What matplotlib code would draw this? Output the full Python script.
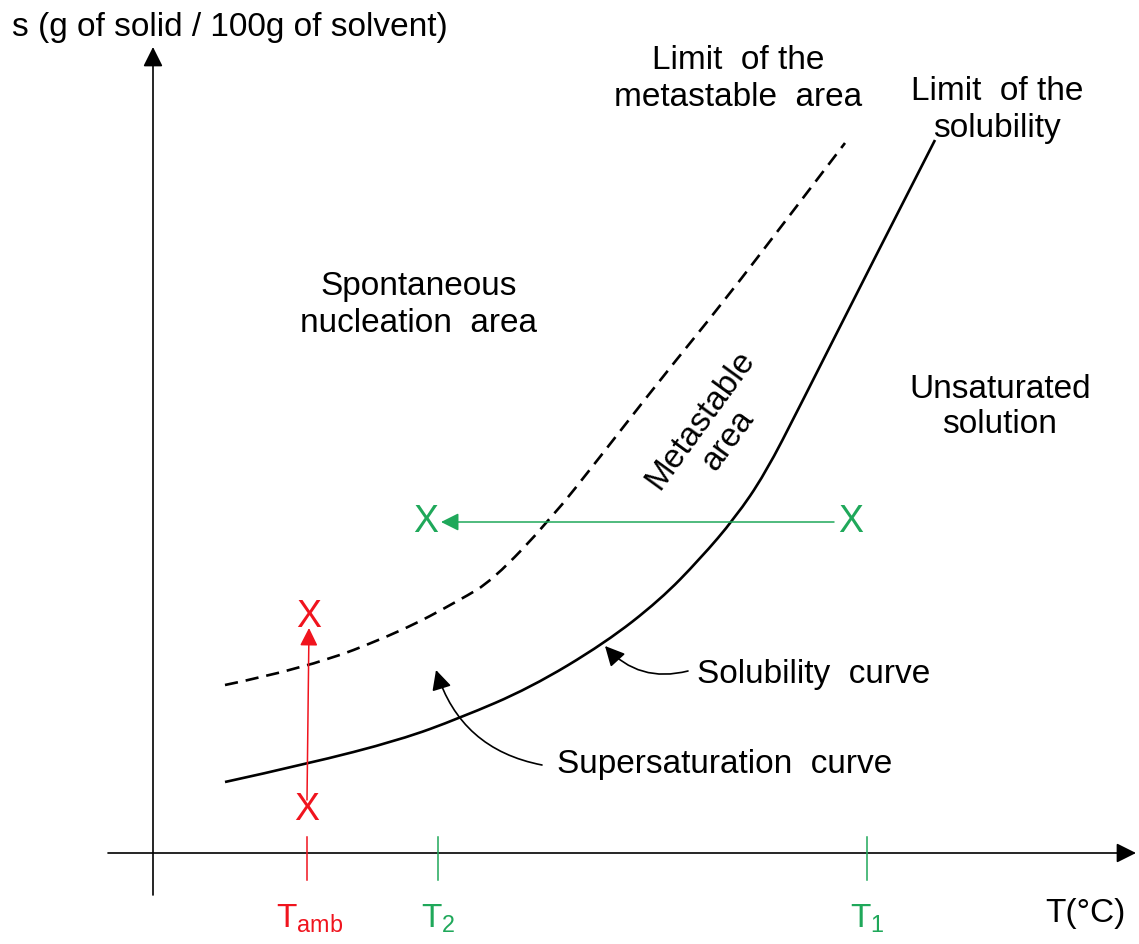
import matplotlib.pyplot as plt
from matplotlib.patches import FancyArrowPatch, PathPatch
from matplotlib.path import Path

plt.rcParams['font.family'] = ['Liberation Sans', 'DejaVu Sans']
plt.rcParams['mathtext.fontset'] = 'custom'
plt.rcParams['mathtext.rm'] = 'Liberation Sans'

# curves (pixel units, y down)
sol_x = [225, 307, 400, 460, 530, 605, 660, 700, 735, 765, 800, 867, 935]
sol_y = [782, 764, 740, 718, 688, 643, 600, 559, 518, 474, 406, 273, 140]
meta_x = [225, 307, 400, 460, 493, 550, 600, 660, 725, 790, 845]
meta_y = [685, 668, 632, 600, 580, 520, 457, 380, 300, 215, 143]

# temperatures on the x axis
t_amb, t2, t1 = 307, 438, 867
y_base = 853
s_start, s_cool = 810, 522

RED = '#f0141e'
GREEN = '#1fa85a'
FS = 24
FX = 27

fig = plt.figure(figsize=(11.39, 9.44), dpi=100)
ax = fig.add_axes([0, 0, 1, 1])
ax.set_xlim(0, 1139)
ax.set_ylim(944, 0)
ax.axis('off')

def arrow(p0, p1, color='black', lw=1.2, rad=0.0, ms=20):
    a = FancyArrowPatch(p0, p1, arrowstyle='-|>,head_length=0.6,head_width=0.3',
                        connectionstyle='arc3,rad=%s' % rad, color=color,
                        lw=lw, mutation_scale=ms, shrinkA=0, shrinkB=0)
    ax.add_patch(a)

def smooth(xs, ys, **kw):
    # quadratic bezier through the midpoints, the read points act as controls
    pts = list(zip(xs, ys))
    verts = [pts[0]]
    codes = [Path.MOVETO]
    for i in range(1, len(pts) - 2):
        mid = ((pts[i][0] + pts[i + 1][0]) / 2, (pts[i][1] + pts[i + 1][1]) / 2)
        verts += [pts[i], mid]
        codes += [Path.CURVE3, Path.CURVE3]
    verts += [pts[-2], pts[-1]]
    codes += [Path.CURVE3, Path.CURVE3]
    ax.add_patch(PathPatch(Path(verts, codes), fill=False, **kw))

# axes
arrow((153, 895), (153, 47))
arrow((108, y_base), (1136, y_base))

# curves
smooth(sol_x, sol_y, edgecolor='black', lw=1.9, capstyle='butt')
smooth(meta_x, meta_y, edgecolor='black', lw=1.9, linestyle=(0, (5, 3)))

# ticks on T axis
ax.plot([t_amb, t_amb], [837, 880], color=RED, lw=1.1)
ax.plot([t2, t2], [837, 880], color=GREEN, lw=1.1)
ax.plot([t1, t1], [837, 880], color=GREEN, lw=1.1)

# red path (ambient)
arrow((t_amb, s_start - 10), (t_amb + 2, 628), color=RED, lw=1.1, ms=18)
ax.text(t_amb, s_start, 'X', color=RED, fontsize=FX, ha='center', va='center')
ax.text(t_amb + 2, 617, 'X', color=RED, fontsize=FX, ha='center', va='center')

# green path (cooling)
arrow((834, s_cool), (441, s_cool), color=GREEN, lw=1.1, ms=18)
ax.text(426, s_cool, 'X', color=GREEN, fontsize=FX, ha='center', va='center')
ax.text(851, s_cool, 'X', color=GREEN, fontsize=FX, ha='center', va='center')

# labels
ax.text(12, 36, 's (g of solid / 100g of solvent)', fontsize=FS, ha='left', va='baseline')
ax.text(1085, 922, 'T(°C)', fontsize=FS, ha='center', va='baseline')
ax.text(t_amb + 3, 928, r'$\mathrm{T_{amb}}$', color=RED, fontsize=FS, ha='center', va='baseline')
ax.text(t2, 928, r'$\mathrm{T_{2}}$', color=GREEN, fontsize=FS, ha='center', va='baseline')
ax.text(t1, 928, r'$\mathrm{T_{1}}$', color=GREEN, fontsize=FS, ha='center', va='baseline')

ax.text(738, 106, 'Limit  of the\nmetastable  area', fontsize=FS, ha='center',
        va='baseline', multialignment='center', linespacing=1.25)
ax.text(997, 137, 'Limit  of the\nsolubility', fontsize=FS, ha='center',
        va='baseline', multialignment='center', linespacing=1.25)
ax.text(419, 332, 'Spontaneous\nnucleation  area', fontsize=FS, ha='center',
        va='baseline', multialignment='center', linespacing=1.25)
ax.text(1000, 433, 'Unsaturated\nsolution', fontsize=FS, ha='center',
        va='baseline', multialignment='center', linespacing=1.15)
ax.text(714, 430, 'Metastable\narea', fontsize=FS, ha='center', va='center',
        multialignment='center', rotation=54, rotation_mode='anchor', linespacing=1.15)

ax.text(697, 683, 'Solubility  curve', fontsize=FS, ha='left', va='baseline')
ax.text(557, 773, 'Supersaturation  curve', fontsize=FS, ha='left', va='baseline')

# pointer arrows
arrow((688, 671), (605, 646), rad=-0.3)
arrow((542, 765), (436, 670), rad=-0.3)

fig.savefig('out.png', dpi=100)
